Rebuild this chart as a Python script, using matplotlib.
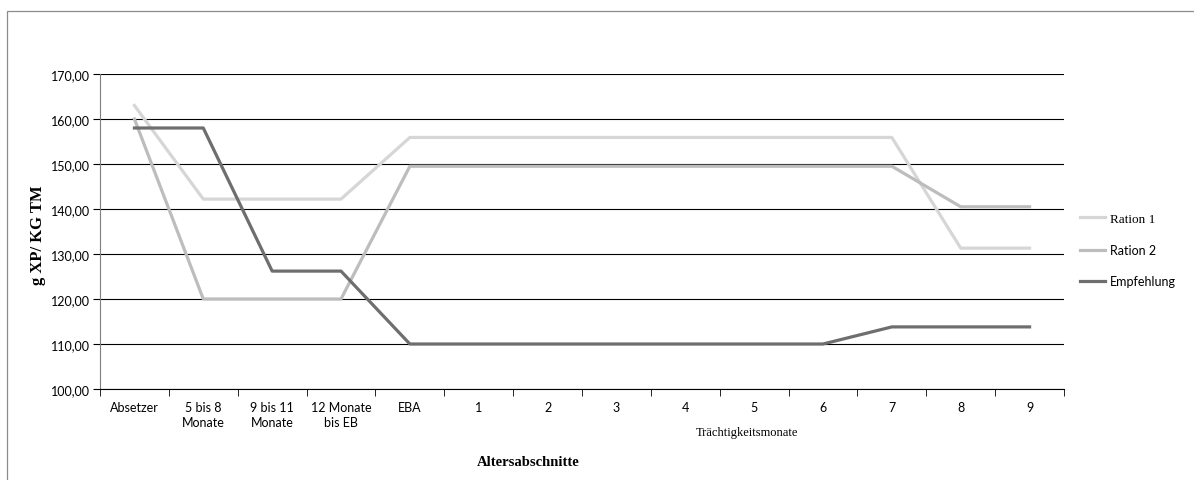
import matplotlib.pyplot as plt
import numpy as np
from matplotlib.patches import Rectangle
from matplotlib.ticker import FuncFormatter
from matplotlib.transforms import blended_transform_factory

categories = ['Absetzer', '5 bis 8\nMonate', '9 bis 11\nMonate', '12 Monate\nbis EB',
              'EBA', '1', '2', '3', '4', '5', '6', '7', '8', '9']
ration1 = [163.0, 142.2, 142.2, 142.2, 155.9, 155.9, 155.9, 155.9, 155.9, 155.9, 155.9, 155.9, 131.3, 131.3]
ration2 = [160.0, 120.0, 120.0, 120.0, 149.5, 149.5, 149.5, 149.5, 149.5, 149.5, 149.5, 149.5, 140.5, 140.5]
empfehlung = [158.0, 158.0, 126.2, 126.2, 110.0, 110.0, 110.0, 110.0, 110.0, 110.0, 110.0, 113.8, 113.8, 113.8]

sans = 'Lato'
serif = 'Liberation Serif'

fig = plt.figure(figsize=(11.94, 4.81), dpi=100)
# outer chart frame (only top and left edge visible)
fig.patches.append(Rectangle((7 / 1194, -0.05), 1.2, 1 - 12 / 481 + 0.05, transform=fig.transFigure,
                             fill=False, edgecolor='#8c8c8c', linewidth=0.9))

ax = fig.add_axes([100 / 1194, 1 - 390 / 481, 964 / 1194, 315 / 481])
x = np.arange(len(categories))

ax.plot(x, ration1, color='#d6d6d6', linewidth=2.3, label='Ration 1')
ax.plot(x, ration2, color='#bdbdbd', linewidth=2.3, label='Ration 2')
ax.plot(x, empfehlung, color='#6e6e6e', linewidth=2.3, label='Empfehlung')

ax.set_xlim(-0.5, len(categories) - 0.5)
ax.set_ylim(100, 170)
ax.set_yticks(np.arange(100, 171, 10))
ax.yaxis.set_major_formatter(FuncFormatter(lambda v, p: f'{v:.2f}'.replace('.', ',')))
ax.grid(axis='y', color='black', linewidth=0.8)
ax.set_axisbelow(True)

ax.set_xticks(x)
ax.set_xticklabels(categories, fontfamily=sans, fontsize=9, linespacing=1.25)
ax.set_xticks(np.arange(-0.5, len(categories), 1), minor=True)
ax.tick_params(axis='x', which='major', length=0, pad=9)
ax.tick_params(axis='x', which='minor', length=5, direction='out', color='black')
ax.tick_params(axis='y', length=5, direction='out', color='black', labelsize=9, pad=2)
for lab in ax.get_yticklabels():
    lab.set_fontfamily(sans)

for s in ['top', 'right']:
    ax.spines[s].set_visible(False)
ax.spines['left'].set_color('#7f7f7f')
ax.spines['bottom'].set_color('black')

ax.set_ylabel('g XP/ KG TM', fontfamily=serif, fontweight='bold', fontsize=12)
ax.yaxis.set_label_coords(-0.056, 0.49)

trans = blended_transform_factory(ax.transData, fig.transFigure)
ax.text(5.72, 1 - 463 / 481, 'Altersabschnitte', transform=trans, fontfamily=serif,
        fontweight='bold', fontsize=10.5, ha='center', va='center')
ax.text(8.9, 1 - 433 / 481, 'Trächtigkeitsmonate', transform=trans, fontfamily=serif,
        fontsize=9, ha='center', va='center')

leg = ax.legend(loc='center left', bbox_to_anchor=(1.005, 0.441), frameon=False, handlelength=2.0,
                labelspacing=1.55, prop={'family': sans, 'size': 9}, handletextpad=0.4)
# the first entry is set in a serif face in the original
leg.get_texts()[0].set_fontfamily(serif)
leg.get_texts()[0].set_fontsize(9.5)

fig.savefig('out.png', dpi=100)
